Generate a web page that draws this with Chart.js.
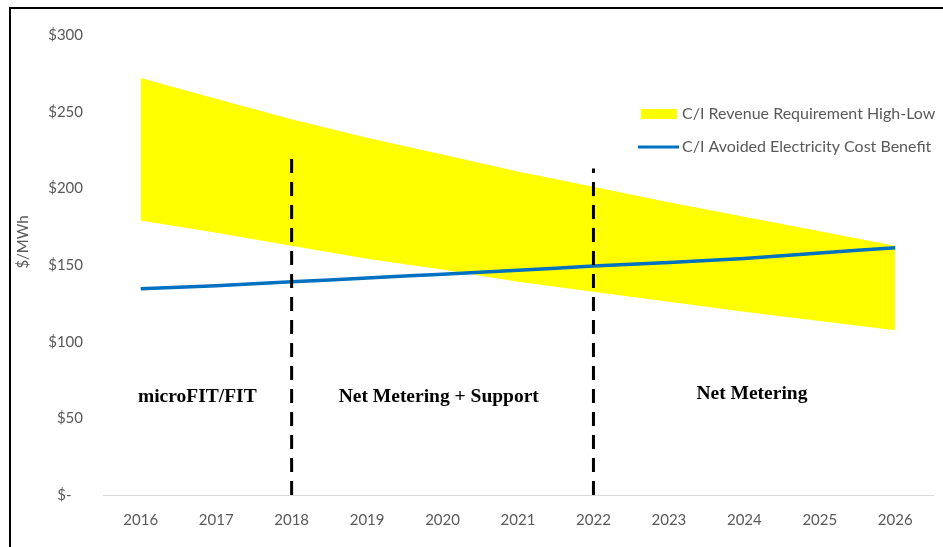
<!DOCTYPE html>
<html>
<head>
<meta charset="utf-8">
<script src="https://cdn.jsdelivr.net/npm/chart.js@4"></script>
<style>
  html, body { margin: 0; padding: 0; background: #fff; }
  #wrap { position: relative; width: 943px; height: 547px; }
</style>
</head>
<body>
<div id="wrap"><canvas id="mainChart" width="943" height="547"></canvas></div>
<script>
// Years on the x axis
const years = ["2016", "2017", "2018", "2019", "2020", "2021", "2022", "2023", "2024", "2025", "2026"];

// C/I revenue requirement band ($/MWh)
const revenueHigh = [272, 258.5, 245, 233, 222, 211, 201, 191, 181.5, 172, 162.5];
const revenueLow = [179, 171, 162.5, 154, 147, 139, 132.5, 126, 119.5, 113.5, 107.5];

// C/I avoided electricity cost benefit ($/MWh)
const avoidedCost = [134.5, 136.5, 139, 141.5, 144, 146.5, 149.3, 151.7, 154.3, 157.8, 161.3];

// Policy period dividers: year and top of the dashed line
const dividerYears = ["2018", "2022"];
const dividerTops = [222, 213];

// Period labels: text, year position (fractional index) and value height
const periodNames = ["microFIT/FIT", "Net Metering + Support", "Net Metering"];
const periodPos = [0.75, 3.95, 8.1];
const periodY = [64, 64, 66];

const legendNames = ["C/I Revenue Requirement High-Low", "C/I Avoided Electricity Cost Benefit"];
const yTitle = "$/MWh";

const grey = "#595959";

// Frame, axis title, period labels and legend
const extras = {
  id: "extras",
  beforeDraw(chart) {
    const c = chart.ctx;
    c.save();
    c.fillStyle = "#fff";
    c.fillRect(0, 0, chart.width, chart.height);
    c.strokeStyle = "#000";
    c.lineWidth = 2;
    c.beginPath();
    c.moveTo(10, chart.height);
    c.lineTo(10, 8);
    c.lineTo(chart.width, 8);
    c.stroke();

    c.translate(23, 242);
    c.rotate(-Math.PI / 2);
    c.fillStyle = grey;
    c.font = "15px Lato";
    c.textAlign = "center";
    c.textBaseline = "middle";
    c.fillText(yTitle, 0, 0);
    c.restore();
  },
  afterDraw(chart) {
    const c = chart.ctx;
    const x = chart.scales.x, y = chart.scales.y;
    c.save();
    c.fillStyle = "#000";
    c.font = "bold 19.5px 'Liberation Serif'";
    c.textAlign = "center";
    c.textBaseline = "middle";
    periodNames.forEach((t, i) => {
      const p0 = x.getPixelForValue(Math.floor(periodPos[i]));
      const p1 = x.getPixelForValue(Math.floor(periodPos[i]) + 1);
      const px = p0 + (p1 - p0) * (periodPos[i] % 1);
      c.fillText(t, px, y.getPixelForValue(periodY[i]));
    });

    // legend
    c.font = "16px Lato";
    c.textAlign = "left";
    c.fillStyle = "#FFFF00";
    c.fillRect(641, 109, 36, 10);
    c.fillStyle = grey;
    c.fillText(legendNames[0], 682, 114);
    c.strokeStyle = "#0070C0";
    c.lineWidth = 3;
    c.beginPath();
    c.moveTo(638, 147);
    c.lineTo(679, 147);
    c.stroke();
    c.fillText(legendNames[1], 682, 147);
    c.restore();
  }
};

const dividerSets = dividerYears.map((yr, i) => ({
  label: "divider " + yr,
  data: [{ x: yr, y: 0 }, { x: yr, y: dividerTops[i] }],
  borderColor: "#000",
  borderWidth: 3,
  borderDash: [14, 9],
  pointRadius: 0,
  fill: false
}));

new Chart(document.getElementById("mainChart"), {
  type: "line",
  data: {
    labels: years,
    datasets: [
      ...dividerSets,
      {
        label: legendNames[1],
        data: avoidedCost,
        borderColor: "#0070C0",
        borderWidth: 3.5,
        pointRadius: 0,
        tension: 0.3,
        fill: false
      },
      {
        label: legendNames[0],
        data: revenueHigh,
        borderWidth: 0,
        borderColor: "rgba(0,0,0,0)",
        backgroundColor: "#FFFF00",
        pointRadius: 0,
        fill: "+1"
      },
      {
        label: "low",
        data: revenueLow,
        borderWidth: 0,
        borderColor: "rgba(0,0,0,0)",
        pointRadius: 0,
        fill: false
      }
    ]
  },
  plugins: [extras],
  options: {
    responsive: false,
    animation: false,
    devicePixelRatio: 1,
    layout: { padding: { top: 35, right: 10, left: 0, bottom: 0 } },
    plugins: {
      legend: { display: false },
      tooltip: { enabled: false }
    },
    scales: {
      x: {
        offset: true,
        grid: { display: false, drawTicks: false },
        border: { display: true, color: "#d9d9d9", width: 1 },
        ticks: { color: grey, font: { family: "Lato", size: 15 }, padding: 16, maxRotation: 0, autoSkip: false },
        afterFit(s) { s.height = 52; }
      },
      y: {
        min: 0,
        max: 300,
        grid: { display: false, drawTicks: false },
        border: { display: false },
        ticks: {
          stepSize: 50,
          color: grey,
          font: { family: "Lato", size: 15 },
          padding: 20,
          callback: v => v === 0 ? "$-   " : "$" + v
        },
        afterFit(s) { s.width = 103; }
      }
    }
  }
});
</script>
</body>
</html>
